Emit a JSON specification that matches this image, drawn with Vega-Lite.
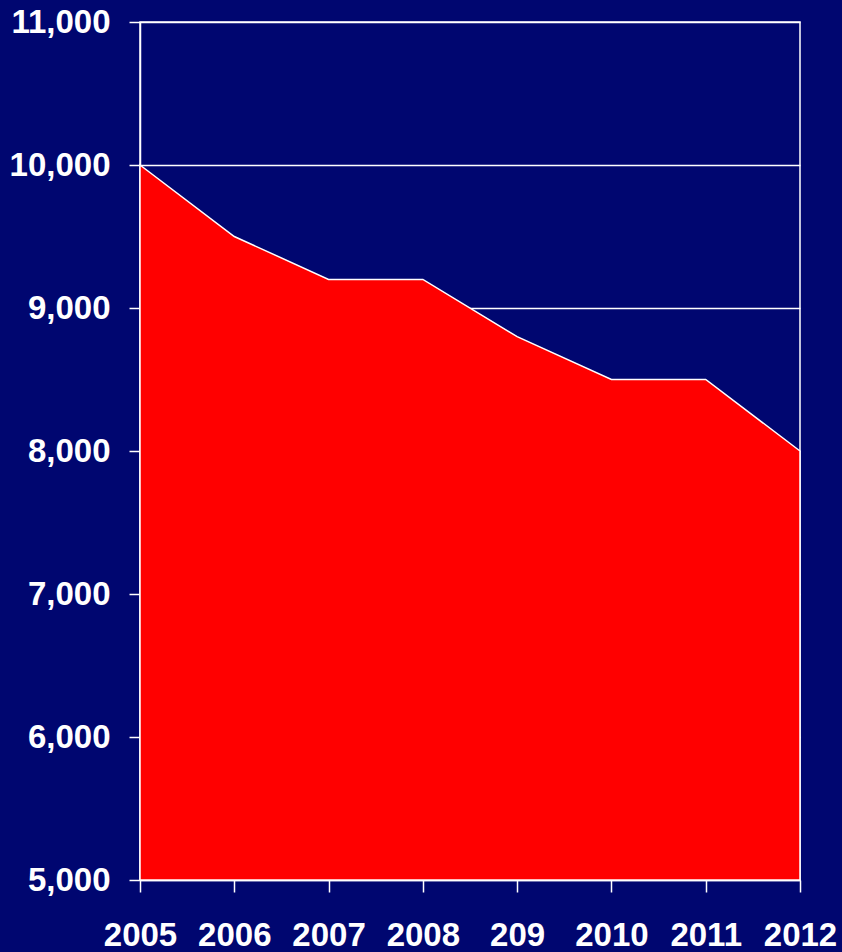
{
  "$schema": "https://vega.github.io/schema/vega-lite/v6.json",
  "autosize": "none",
  "width": 660,
  "height": 858,
  "padding": {"left": 140, "top": 22, "right": 42, "bottom": 72},
  "background": "#000670",
  "config": {
    "view": {"stroke": "white", "strokeWidth": 1.5},
    "axis": {
      "labelFont": "Liberation Sans",
      "labelFontWeight": "bold",
      "labelFontSize": 33,
      "labelColor": "white",
      "domainColor": "white",
      "domainWidth": 1.5,
      "tickColor": "white",
      "tickWidth": 1.5,
      "gridColor": "white",
      "gridWidth": 1.5,
      "gridOpacity": 1,
      "title": null
    }
  },
  "data": {
    "values": [
      {"year": "2005", "value": 10000},
      {"year": "2006", "value": 9500},
      {"year": "2007", "value": 9200},
      {"year": "2008", "value": 9200},
      {"year": "209", "value": 8800},
      {"year": "2010", "value": 8500},
      {"year": "2011", "value": 8500},
      {"year": "2012", "value": 8000}
    ]
  },
  "mark": {"type": "area", "color": "#ff0000", "stroke": "white", "strokeWidth": 1.5, "opacity": 1},
  "encoding": {
    "x": {
      "field": "year",
      "type": "ordinal",
      "sort": null,
      "scale": {"type": "point", "padding": 0},
      "axis": {"labelAngle": 0, "tickSize": 12, "labelPadding": 27, "grid": false}
    },
    "y": {
      "field": "value",
      "type": "quantitative",
      "scale": {"domain": [5000, 11000], "zero": false, "nice": false},
      "axis": {"values": [5000, 6000, 7000, 8000, 9000, 10000, 11000], "format": ",d", "tickSize": 11, "labelPadding": 19, "grid": true}
    },
    "y2": {"datum": 5000}
  }
}
